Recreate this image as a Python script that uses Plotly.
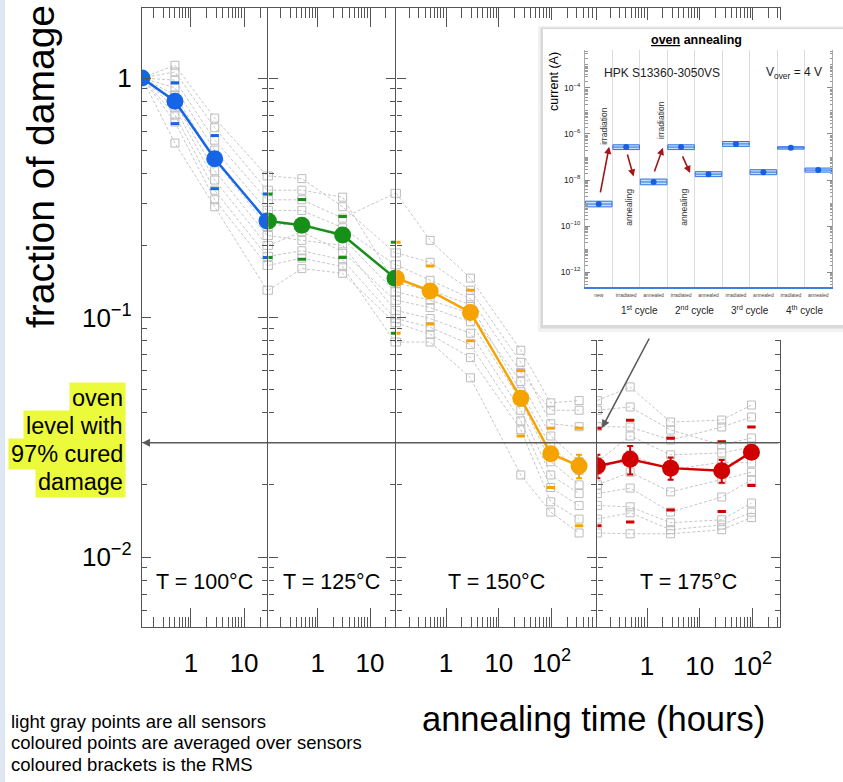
import math
import plotly.graph_objects as go

# ---------------------------------------------------------------------------
# Data: fraction of remaining damage vs. annealing time, four oven steps
# ---------------------------------------------------------------------------
panel_labels = ["T = 100°C", "T = 125°C", "T = 150°C", "T = 175°C"]
panel_colors = ["#1565e6", "#17901a", "#f5a300", "#d00000"]

hours_100 = [0.12, 0.5, 2.8, 27]
hours_125 = [0.115, 0.5, 3.0, 30]
hours_150 = [0.115, 0.5, 2.9, 26, 96, 330]
hours_175 = [0.115, 0.48, 2.8, 26, 95]

# upper end of each time axis (hours)
axis_end_hours = [27, 30, 690, 330]

# sensor-averaged fraction of damage
mean_100 = [1.0, 0.80, 0.46, 0.253]
mean_125 = [0.253, 0.243, 0.221, 0.146]
mean_150 = [0.146, 0.129, 0.105, 0.046, 0.027, 0.024]
mean_175 = [0.024, 0.0256, 0.0235, 0.0229, 0.0274]

# RMS over sensors (brackets)
rms_100 = [0.0, 0.155, 0.115, 0.075]
rms_125 = [0.075, 0.068, 0.043, 0.060]
rms_150 = [0.060, 0.035, 0.025, 0.014, 0.0075, 0.0105]
rms_175 = [0.0105, 0.0116, 0.0078, 0.0074, 0.0075]

# uncertainty of the average (error bars)
err_100 = [0.0, 0.03, 0.02, 0.01]
err_125 = [0.01, 0.012, 0.008, 0.008]
err_150 = [0.008, 0.006, 0.005, 0.003, 0.0015, 0.0027]
err_175 = [0.0027, 0.0035, 0.0025, 0.0025, 0.0016]

# individual sensors (one row per sensor)
sensors_100 = [
    [1, 1.13, 0.68, 0.39],
    [1, 1.06, 0.62, 0.34],
    [1, 0.98, 0.55, 0.31],
    [1, 0.91, 0.50, 0.28],
    [1, 0.85, 0.455, 0.24],
    [1, 0.79, 0.41, 0.22],
    [1, 0.75, 0.375, 0.20],
    [1, 0.70, 0.34, 0.18],
    [1, 0.655, 0.31, 0.165],
    [1, 0.535, 0.29, 0.13],
]
sensors_125 = [
    [0.39, 0.38, 0.29, 0.186],
    [0.34, 0.34, 0.318, 0.139],
    [0.31, 0.31, 0.26, 0.33],
    [0.28, 0.28, 0.237, 0.166],
    [0.24, 0.25, 0.215, 0.128],
    [0.22, 0.21, 0.20, 0.107],
    [0.20, 0.228, 0.188, 0.118],
    [0.18, 0.19, 0.174, 0.099],
    [0.165, 0.177, 0.163, 0.079],
    [0.13, 0.16, 0.153, 0.095],
]
sensors_150 = [
    [0.186, 0.17, 0.13, 0.065, 0.036, 0.035],
    [0.139, 0.13, 0.113, 0.049, 0.029, 0.023],
    [0.33, 0.21, 0.146, 0.073, 0.044, 0.045],
    [0.166, 0.143, 0.12, 0.059, 0.041, 0.041],
    [0.128, 0.118, 0.104, 0.054, 0.032, 0.025],
    [0.107, 0.099, 0.086, 0.041, 0.022, 0.0184],
    [0.118, 0.11, 0.096, 0.045, 0.025, 0.020],
    [0.099, 0.091, 0.077, 0.037, 0.0195, 0.0164],
    [0.079, 0.079, 0.056, 0.022, 0.0154, 0.0126],
    [0.095, 0.085, 0.068, 0.034, 0.017, 0.0144],
]
sensors_175 = [
    [0.035, 0.0349, 0.0308, 0.0349, 0.0384],
    [0.023, 0.0267, 0.0231, 0.0249, 0.0247],
    [0.045, 0.0513, 0.0366, 0.0373, 0.0431],
    [0.041, 0.0423, 0.0339, 0.0294, 0.0314],
    [0.025, 0.032, 0.0267, 0.0272, 0.0288],
    [0.0184, 0.0194, 0.0154, 0.0178, 0.021],
    [0.020, 0.0226, 0.0187, 0.021, 0.0226],
    [0.0164, 0.0162, 0.0139, 0.0143, 0.0168],
    [0.0126, 0.0125, 0.0125, 0.013, 0.0146],
    [0.0144, 0.0153, 0.013, 0.0136, 0.0154],
]

# level corresponding to 97 % cured damage
oven_level = 0.03

# inset: dark current through irradiation / annealing cycles
inset_stages = ["new", "irradiated", "annealed", "irradiated", "annealed",
                "irradiated", "annealed", "irradiated", "annealed"]
inset_current = [9e-10, 2.7e-7, 8.2e-9, 2.7e-7, 1.8e-8, 3.7e-7, 2.2e-8, 2.5e-7, 2.7e-8]
inset_low = [6.8e-10, 2.1e-7, 6.2e-9, 2.1e-7, 1.4e-8, 2.9e-7, 1.7e-8, 2.2e-7, 2.2e-8]
inset_high = [1.2e-9, 3.4e-7, 1.1e-8, 3.4e-7, 2.3e-8, 4.7e-7, 2.8e-8, 2.8e-7, 3.3e-8]
inset_cycles = ["1<sup>st</sup> cycle", "2<sup>nd</sup> cycle",
                "3<sup>rd</sup> cycle", "4<sup>th</sup> cycle"]

# ---------------------------------------------------------------------------
W, H = 843, 782
FONT = "Liberation Sans, Arial, Helvetica, sans-serif"
AX = "#555555"
LW = 1.4


def px_x(p):
    return p / W


def px_y(p):
    return 1 - p / H


panels = [
    (hours_100, mean_100, rms_100, err_100, sensors_100),
    (hours_125, mean_125, rms_125, err_125, sensors_125),
    (hours_150, mean_150, rms_150, err_150, sensors_150),
    (hours_175, mean_175, rms_175, err_175, sensors_175),
]

fig = go.Figure()

for i, (hours, mean, rms, err, sensors) in enumerate(panels):
    xa = "x" if i == 0 else f"x{i + 1}"
    ya = "y" if i == 0 else f"y{i + 1}"
    color = panel_colors[i]
    for row in sensors:
        fig.add_trace(go.Scatter(
            x=hours, y=row, xaxis=xa, yaxis=ya, mode="lines+markers",
            line=dict(color="#c6c6c6", width=1, dash="3px,2px"),
            marker=dict(symbol="square-open", size=8, color="#bcbcbc",
                        line=dict(width=1, color="#bcbcbc")),
            hoverinfo="skip"))
    bx, by = [], []
    for h, m, r in zip(hours, mean, rms):
        if r > 0:
            bx += [h, h]
            by += [m + r, m - r]
    fig.add_trace(go.Scatter(
        x=bx, y=by, xaxis=xa, yaxis=ya, mode="markers",
        marker=dict(symbol="line-ew", size=6, color=color,
                    line=dict(width=3, color=color)),
        hoverinfo="skip"))
    fig.add_trace(go.Scatter(
        x=hours, y=mean, xaxis=xa, yaxis=ya, mode="lines+markers",
        line=dict(color=color, width=2.5),
        marker=dict(size=17, color=color),
        error_y=dict(type="data", array=err, color=color, thickness=2, width=3),
        hoverinfo="skip"))

# placeholder trace for the inset backdrop subplot
fig.add_trace(go.Scatter(x=[], y=[], xaxis="x5", yaxis="y5", hoverinfo="skip"))

# inset traces
idx = list(range(len(inset_stages)))
fig.add_trace(go.Bar(
    x=idx, y=[h - l for h, l in zip(inset_high, inset_low)], base=inset_low,
    width=0.97, xaxis="x6", yaxis="y6",
    marker=dict(color="rgba(90,155,240,0.35)", line=dict(color="#2f74e0", width=1)),
    hoverinfo="skip"))
fig.add_trace(go.Scatter(
    x=idx, y=inset_current, xaxis="x6", yaxis="y6", mode="markers",
    marker=dict(size=6, color="#1a5fe0"),
    error_x=dict(type="constant", value=0.485, width=0, thickness=1, color="#2f74e0"),
    hoverinfo="skip"))

edges = [142, 267, 395, 596, 780]
y_dom = [px_y(627), px_y(8)]
x_minor = [m * 10 ** k for k in (-1, 0, 1, 2) for m in range(2, 10)]
y_minor = [m * 10 ** k for k in (-3, -2, -1) for m in range(2, 10)]

layout_axes = {}
for i in range(4):
    xname = "xaxis" if i == 0 else f"xaxis{i + 1}"
    yname = "yaxis" if i == 0 else f"yaxis{i + 1}"
    xid = "x" if i == 0 else f"x{i + 1}"
    yid = "y" if i == 0 else f"y{i + 1}"
    hours = panels[i][0]
    # neighbouring panels share one border line
    left = edges[i] + (LW if i > 0 else 0)
    layout_axes[xname] = dict(
        type="log", domain=[px_x(left), px_x(edges[i + 1])], anchor=yid,
        range=[math.log10(hours[0]), math.log10(axis_end_hours[i])],
        tickvals=[1, 10, 100], ticktext=["1", "10", "10<sup>2</sup>"],
        ticks="inside", ticklen=19, tickwidth=1.2, tickcolor=AX,
        minor=dict(tickvals=x_minor, ticks="inside", ticklen=10,
                   tickwidth=1.2, tickcolor=AX, showgrid=False),
        showline=True, linecolor=AX, linewidth=LW, mirror="allticks",
        showgrid=False, zeroline=False,
        tickfont=dict(size=26, color="#000", family=FONT),
        ticklabelstandoff=13 if i < 3 else 16)
    layout_axes[yname] = dict(
        type="log", domain=y_dom, anchor=xid,
        range=[-2.2923, 0.2923],
        tickvals=[0.01, 0.1, 1],
        ticktext=["10<sup>−2</sup>", "10<sup>−1</sup>", "1"],
        showticklabels=(i == 0),
        ticks="inside", ticklen=9, tickwidth=1.2, tickcolor=AX,
        minor=dict(tickvals=y_minor, ticks="inside", ticklen=5,
                   tickwidth=1.2, tickcolor=AX, showgrid=False),
        showline=True, linecolor=AX, linewidth=LW, mirror="allticks",
        showgrid=False, zeroline=False,
        tickfont=dict(size=26, color="#000", family=FONT),
        ticklabelstandoff=4)

# inset backdrop subplot (pixel-like units)
layout_axes["xaxis5"] = dict(domain=[px_x(530), 1.0], anchor="y5", range=[530, 843],
                             visible=False, fixedrange=True)
layout_axes["yaxis5"] = dict(domain=[px_y(340), px_y(20)], anchor="x5", range=[340, 20],
                             visible=False, fixedrange=True)

# inset axes
inset_y_minor = [m * 10.0 ** k for k in range(-13, -2) for m in range(1, 10)
                 if not (m == 1 and k % 2 == 0)]
layout_axes["xaxis6"] = dict(
    domain=[px_x(585), px_x(832)], anchor="y6", range=[-0.5, 8.5],
    tickvals=idx, ticktext=inset_stages, ticks="",
    tickfont=dict(size=5, color="#444", family=FONT), ticklabelstandoff=2,
    minor=dict(tickvals=[k + 0.5 for k in range(8)], ticks="", showgrid=True,
               gridcolor="#dcdcdc", gridwidth=1),
    showgrid=False, zeroline=False, showline=True, linecolor="#3d7fe0", linewidth=1.5)
layout_axes["yaxis6"] = dict(
    type="log", domain=[px_y(287), px_y(50)], anchor="x6", range=[-12.65, -2.35],
    tickvals=[1e-12, 1e-10, 1e-8, 1e-6, 1e-4],
    ticktext=["10<sup>−12</sup>", "10<sup>−10</sup>", "10<sup>−8</sup>",
              "10<sup>−6</sup>", "10<sup>−4</sup>"],
    ticks="inside", ticklen=5, tickwidth=1, tickcolor="#888",
    minor=dict(tickvals=inset_y_minor, ticks="inside", ticklen=2.5, tickwidth=1,
               tickcolor="#999", showgrid=False),
    showline=True, linecolor="#aaaaaa", linewidth=1, mirror="allticks",
    showgrid=False, zeroline=False,
    tickfont=dict(size=8.5, color="#222", family=FONT), ticklabelstandoff=2)

shapes = [
    # light slide margin on the left
    dict(type="rect", xref="paper", yref="paper", x0=0, x1=px_x(5), y0=0, y1=1,
         fillcolor="#dde6f1", line=dict(width=0), layer="below"),
    # inset card with soft shadow
    dict(type="rect", xref="x5", yref="y5", x0=538, x1=860, y0=26, y1=332,
         fillcolor="rgba(0,0,0,0.05)", line=dict(width=0), layer="below"),
    dict(type="rect", xref="x5", yref="y5", x0=540.5, x1=860, y0=27.5, y1=328.5,
         fillcolor="rgba(0,0,0,0.10)", line=dict(width=0), layer="below"),
    dict(type="rect", xref="x5", yref="y5", x0=543, x1=860, y0=29, y1=325,
         fillcolor="white", line=dict(width=0), layer="below"),
]

annotations = []


def note(text, x, y, size, xanchor="center", yanchor="middle", **kw):
    d = dict(text=text, x=x, y=y, xref=kw.pop("xref", "paper"), yref=kw.pop("yref", "paper"),
             showarrow=False, xanchor=xanchor, yanchor=yanchor,
             font=dict(size=size, color=kw.pop("color", "#000"), family=FONT))
    d.update(kw)
    annotations.append(d)


# axis titles
note("fraction of damage", px_x(41), px_y(167), 39, textangle=-90)
note("annealing time (hours)", px_x(593), px_y(719), 34.5)

# temperature labels
for i, lab in enumerate(panel_labels):
    xid = "x" if i == 0 else f"x{i + 1}"
    note(lab, 0.5, px_y(582), 21.5, xref=f"{xid} domain")

# 97 % cured level
oven_lines = ["oven", "level with", "97% cured", "damage"]
for k, line in enumerate(oven_lines):
    note(line, px_x(126), px_y(398 + 28 * k), 23.5, xanchor="right",
         bgcolor="#ecfa3c", borderpad=2)

annotations.append(dict(
    x=math.log10(hours_100[0]), y=math.log10(oven_level), xref="x", yref="y",
    text="", showarrow=True, arrowhead=2, arrowsize=1, arrowwidth=1.6,
    arrowcolor="#5a5a5a", axref="pixel", ayref="pixel", ax=edges[-1] - edges[0], ay=0,
    standoff=0))
annotations.append(dict(
    x=px_x(602), y=px_y(428), xref="paper", yref="paper", text="", showarrow=True,
    arrowhead=2, arrowsize=1, arrowwidth=1.6, arrowcolor="#5a5a5a",
    ax=48, ay=-91, standoff=0))

# explanatory text
legend_lines = ["light gray points are all sensors",
                "coloured points are averaged over sensors",
                "coloured brackets is the RMS"]
for k, line in enumerate(legend_lines):
    note(line, px_x(9), px_y(721 + 21.5 * k), 18.5, xanchor="left")

# inset texts
note("<b><u>oven</u> annealing</b>", px_x(696), px_y(40), 12.5)
note("current (A)", px_x(554), px_y(82), 12.5, textangle=-90)
note("HPK S13360-3050VS", 0.12, math.log10(4.6e-4), 12, xanchor="left",
     xref="x6", yref="y6", color="#222")
note("V<sub>over</sub> = 4 V", 8.2, math.log10(4.6e-4), 12, xanchor="right",
     xref="x6", yref="y6", color="#222")
for k, cyc in enumerate(inset_cycles):
    note(cyc, 1.5 + 2 * k, px_y(310), 10, xref="x6", color="#222")

for txt, xv, yv in [("irradiation", 0.19, -5.65), ("annealing", 1.1, -9.17),
                    ("irradiation", 2.27, -5.39), ("annealing", 3.1, -9.17)]:
    note(txt, xv, yv, 8.5, xref="x6", yref="y6", textangle=-90, color="#333")

for (x0, y0, x1, y1) in [(0.05, -8.6, 0.38, -6.55), (1.03, -6.83, 1.27, -7.85),
                         (2.01, -7.70, 2.34, -6.6), (3.03, -6.91, 3.33, -7.7)]:
    annotations.append(dict(
        x=x1, y=y1, ax=x0, ay=y0, xref="x6", yref="y6", axref="x6", ayref="y6",
        text="", showarrow=True, arrowhead=2, arrowsize=0.9, arrowwidth=1.6,
        arrowcolor="#a01818", standoff=0))

fig.update_layout(
    width=W, height=H, autosize=False,
    margin=dict(l=0, r=0, t=0, b=0),
    paper_bgcolor="white", plot_bgcolor="white",
    showlegend=False, barmode="overlay",
    font=dict(family=FONT, color="#000"),
    shapes=shapes, annotations=annotations,
    **layout_axes)

fig.write_html("out.html")
